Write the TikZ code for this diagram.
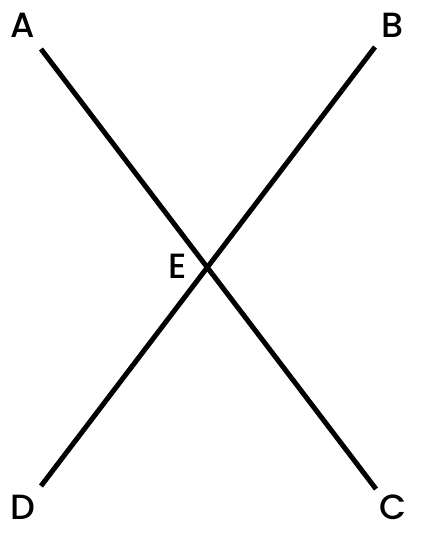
\documentclass[tikz,border=0pt]{standalone}
\usepackage{fontspec}
\setmainfont{Poppins}[UprightFont=* Medium]
\begin{document}
\begin{tikzpicture}[x=1pt,y=-1pt,
  lbl/.style={font=\fontsize{35}{35}\selectfont,inner sep=0pt},
  seg/.style={line width=5pt}]
   \useasboundingbox (0,0) rectangle (421,536);
   \coordinate (a) at (41,49);
   \coordinate (b) at (375,47);
   \coordinate (c) at (376,489);
   \coordinate (d) at (41,486);
   \draw[seg] (a) -- (c);
   \draw[seg] (b) -- (d);

   \node[lbl] (la) at (23,25) {A};
   \node[lbl] (lb) at (393,25) {B};
   \node[lbl] (lc) at (393,507) {C};
   \node[lbl] (ld) at (23,507) {D};
   \node[lbl] (le) at (178,266) {E};
\end{tikzpicture}
\end{document}
